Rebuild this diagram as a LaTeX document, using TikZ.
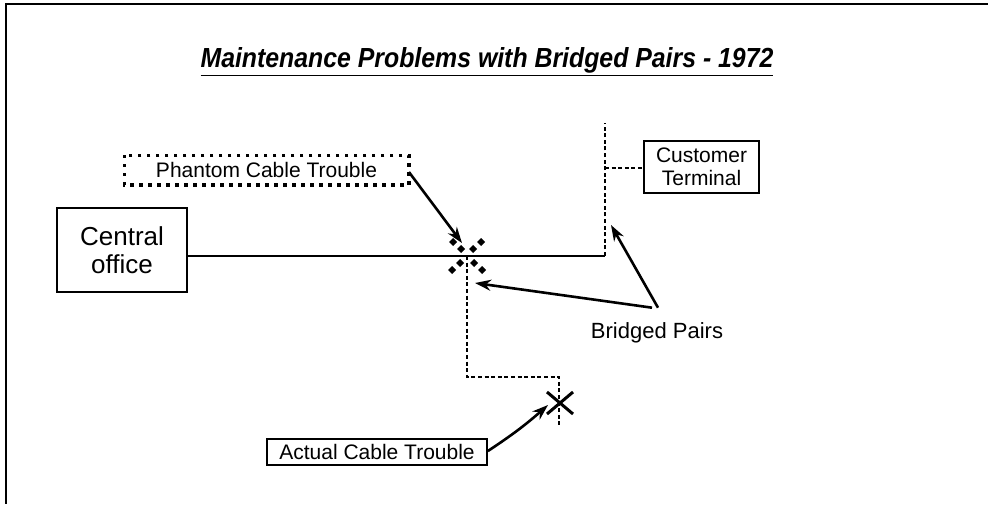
\documentclass[tikz,border=0pt]{standalone}
\usepackage{fontspec}
\setmainfont{Liberation Sans}
\newfontfamily\titlefont[FakeStretch=0.9]{Liberation Sans}
\usetikzlibrary{calc, arrows.meta, positioning}
\tikzstyle{lbl}=[draw, line width=0.9pt, inner sep=0pt, align=center, font=\fontsize{10.5}{11.5}\selectfont]
\tikzstyle{wire}=[line width=0.9pt]
\tikzstyle{bridge}=[line width=0.7pt, dash pattern=on 2pt off 1.3pt]
\tikzstyle{ptr}=[line width=1.3pt, -{Stealth[length=8pt, width=5.5pt]}]
\tikzset{>=stealth}

\begin{document}
\begin{tikzpicture}[x=0.5pt, y=-0.5pt]
\useasboundingbox (0,0) rectangle (988,504);
% the frame, only top and left survive
\draw[line width=0.8pt] (988,4) -- (6,4) -- (6,504);
% the title
\node (title) at (487,62) {\titlefont\fontsize{13.8}{16}\selectfont\bfseries\itshape\underline{Maintenance Problems with Bridged Pairs - 1972}};
% the boxes
\node[lbl, minimum width=65pt, minimum height=42pt, font=\fontsize{13}{14}\selectfont] (CO) at (122,250) {Central\\office};
\node[lbl, minimum width=57.5pt, minimum height=26pt] (CT) at (701.5,167) {Customer\\Terminal};
\node[lbl, draw=none, minimum width=141.5pt, minimum height=14pt] (PT) at (266.5,170) {Phantom Cable Trouble};
\draw[line width=1.6pt, dash pattern=on 1.6pt off 2.9pt] (PT.north west) rectangle (PT.south east);
\node[lbl, minimum width=110pt, minimum height=13pt] (AT) at (377,452) {Actual Cable Trouble};
\node[font=\fontsize{11}{13}\selectfont] (BP) at (657,333) {Bridged Pairs};
% the points on the pair
\coordinate (J) at (467,256);
\coordinate (E) at (605,256);
\coordinate (Top) at (605,123);
\coordinate (K) at (605,168);
\coordinate (B1) at (467,377);
\coordinate (B2) at (559,377);
\coordinate (B3) at (559,425);
\coordinate (AX) at (560,403);
% the pair and its bridges
\draw[wire] (CO.east |- J) -- (E);
\draw[bridge] (E) -- (Top);
\draw[bridge] (K) -- (CT.west |- K);
\draw[bridge] (J) -- (B1) -- (B2) -- (B3);
% the phantom trouble, a dotted cross
\foreach \a/\b in {-14/-14, -6/-7, 6/-7, 14/-14, -15/14, -7/7, 7/7, 15/14}
  \fill[shift={(J)}] (\a,\b) +(0,-4) -- +(4,0) -- +(0,4) -- +(-4,0) -- cycle;
% the actual trouble, a solid cross
\draw[line width=1.5pt] ($(AX)+(-13,-11)$) -- ($(AX)+(13,11)$);
\draw[line width=1.5pt] ($(AX)+(-13,11)$) -- ($(AX)+(13,-11)$);
% the pointers
\coordinate (PJ) at (462,243);
\coordinate (BJ) at (475,283);
\coordinate (BV) at (611,225);
\draw[ptr] (PT.east) ++(0,2) -- (PJ);
\draw[ptr] (AT.east) ++(0,-1) to[bend right=4] ($(AX)+(-12,2)$);
\draw[ptr] (BP.north) ++(-5,-8) -- (BJ);
\draw[ptr] (BP.north) ++(1,-8) -- (BV);
\end{tikzpicture}
\end{document}
